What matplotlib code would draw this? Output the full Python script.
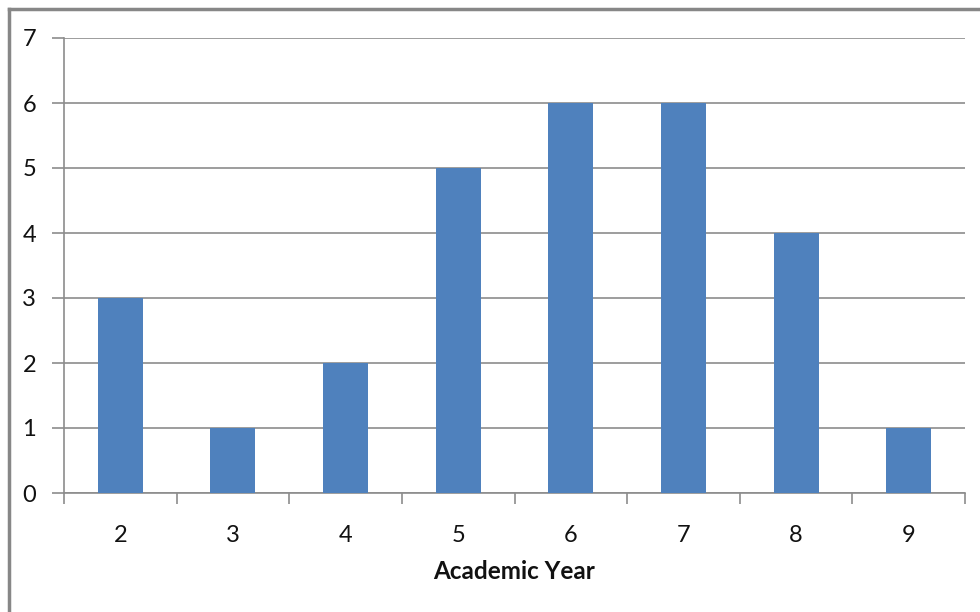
import matplotlib
matplotlib.use("Agg")
import matplotlib.pyplot as plt
from matplotlib.lines import Line2D
import numpy as np

years = ["2", "3", "4", "5", "6", "7", "8", "9"]
counts = [3, 1, 2, 5, 6, 6, 4, 1]
y_ticks = [0, 1, 2, 3, 4, 5, 6, 7]

bar_color = "#4F81BD"
grid_color = "#8C8C8C"

plt.rcParams["font.family"] = ["Lato", "DejaVu Sans"]

fig = plt.figure(figsize=(9.8, 6.12), dpi=100)
ax = fig.add_axes([64 / 980, 1 - 493 / 612, (965 - 64) / 980, (493 - 38) / 612])

x = np.arange(len(years))
ax.bar(x, counts, width=0.4, color=bar_color, zorder=3)

ax.set_xlim(-0.5, len(years) - 0.5)
ax.set_ylim(0, 7)
ax.set_yticks(y_ticks)
ax.set_yticklabels([str(v) for v in y_ticks])
ax.yaxis.grid(True, color=grid_color, linewidth=1.2, zorder=0)

ax.set_xticks(x)
ax.set_xticklabels(years)
ax.set_xticks(np.arange(len(years) + 1) - 0.5, minor=True)
ax.tick_params(axis="x", which="major", length=0, pad=23, labelsize=17, labelcolor="#111111")
ax.tick_params(axis="x", which="minor", length=8, width=1.2, color=grid_color, direction="out")
ax.tick_params(axis="y", length=9, width=1.2, color=grid_color, direction="out", pad=11,
               labelsize=17, labelcolor="#111111")

for side in ["top", "right"]:
    ax.spines[side].set_visible(False)
for side in ["left", "bottom"]:
    ax.spines[side].set_color(grid_color)
    ax.spines[side].set_linewidth(1.2)

ax.set_xlabel("Academic Year", fontsize=17.5, fontweight="bold", labelpad=10, color="#111111")

# chart-area frame (top and left edges visible)
fig.add_artist(Line2D([9 / 980, 9 / 980], [0, 1 - 9 / 612], transform=fig.transFigure,
                      color="#878787", linewidth=2.5))
fig.add_artist(Line2D([9 / 980, 1], [1 - 9 / 612, 1 - 9 / 612], transform=fig.transFigure,
                      color="#878787", linewidth=2.5))

fig.savefig("out.png", dpi=100)
